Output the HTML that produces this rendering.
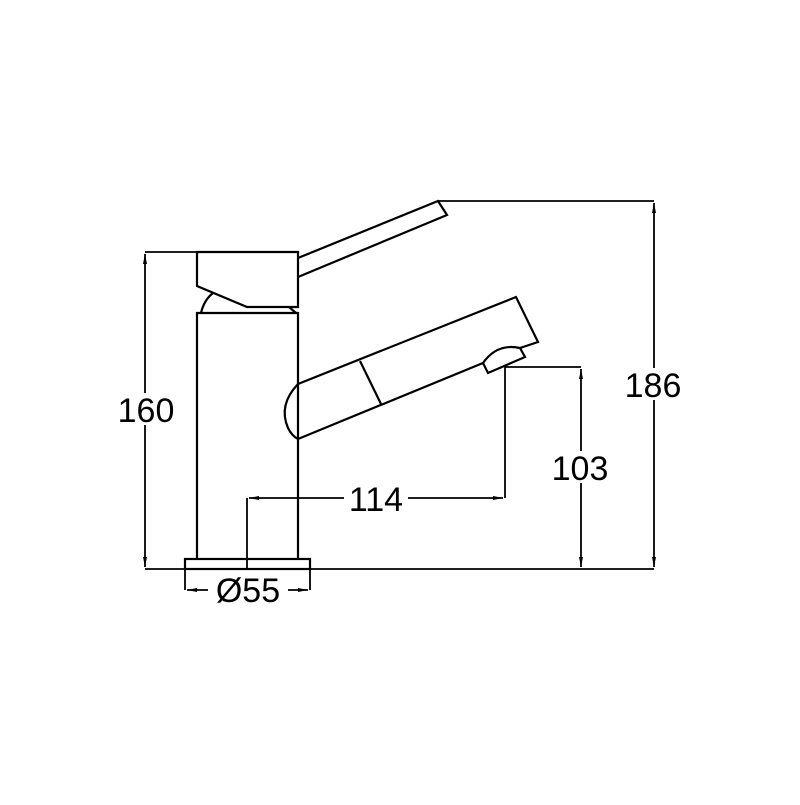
<!DOCTYPE html>
<html><head><style>html,body{margin:0;padding:0;background:#fff}</style></head>
<body>
<svg width="800" height="800" viewBox="0 0 800 800" xmlns="http://www.w3.org/2000/svg">
<defs>
<marker id="a" viewBox="0 0 10 4" refX="10" refY="2" markerWidth="10" markerHeight="4" markerUnits="userSpaceOnUse" orient="auto-start-reverse"><path d="M0,0 L10,2 L0,4 z" fill="#000"/></marker>
</defs>
<g fill="none" stroke="#000" stroke-width="2.2" stroke-linejoin="miter">
<path d="M197,559 V313 H298 V559"/>
<path d="M201,313 Q204,300 213,293"/>
<path d="M289,307 L296,313"/>
<path d="M197,252 H298 V307 H247 L197,286 Z"/>
<path d="M298,258 L438,201 L447,215 L298,277"/>
<path d="M298,384 L516,297 L538,342 L520,348"/>
<path d="M298,439 L483,363"/>
<path d="M298,384 Q278,405 288,428 Q292,436 298,439"/>
<path d="M360,361 L381,404"/>
<path d="M483,363 Q497,343 520,348 L525,357 L488,373 Z"/>
<rect x="185" y="559" width="125" height="10"/>
</g>
<g fill="none" stroke="#000" stroke-width="1.8">
<path d="M145,569 H654"/>
<path d="M145,252 H197"/>
<path d="M145,254 V567" marker-start="url(#a)" marker-end="url(#a)"/>
<path d="M438,201 H654"/>
<path d="M654,203 V567" marker-start="url(#a)" marker-end="url(#a)"/>
<path d="M505,367 H581"/>
<path d="M581,369 V567" marker-start="url(#a)" marker-end="url(#a)"/>
<path d="M247,569 V498"/>
<path d="M505,367 V498"/>
<path d="M249,498 H503" marker-start="url(#a)" marker-end="url(#a)"/>
<path d="M185,569 V590 M310,569 V590"/>
<path d="M187,590 H308" marker-start="url(#a)" marker-end="url(#a)"/>
</g>
<g font-family="Liberation Sans, sans-serif" font-size="34" fill="#000" text-anchor="middle">
<rect x="114" y="393" width="64" height="32" fill="#fff"/>
<text x="146" y="422">160</text>
<rect x="621" y="368" width="64" height="32" fill="#fff"/>
<text x="653" y="397">186</text>
<rect x="548" y="451" width="64" height="32" fill="#fff"/>
<text x="580" y="480">103</text>
<rect x="344" y="483" width="64" height="30" fill="#fff"/>
<text x="376" y="511">114</text>
<rect x="208" y="576" width="80" height="30" fill="#fff"/>
<text x="248" y="602">Ø55</text>
</g>
</svg>
</body></html>
